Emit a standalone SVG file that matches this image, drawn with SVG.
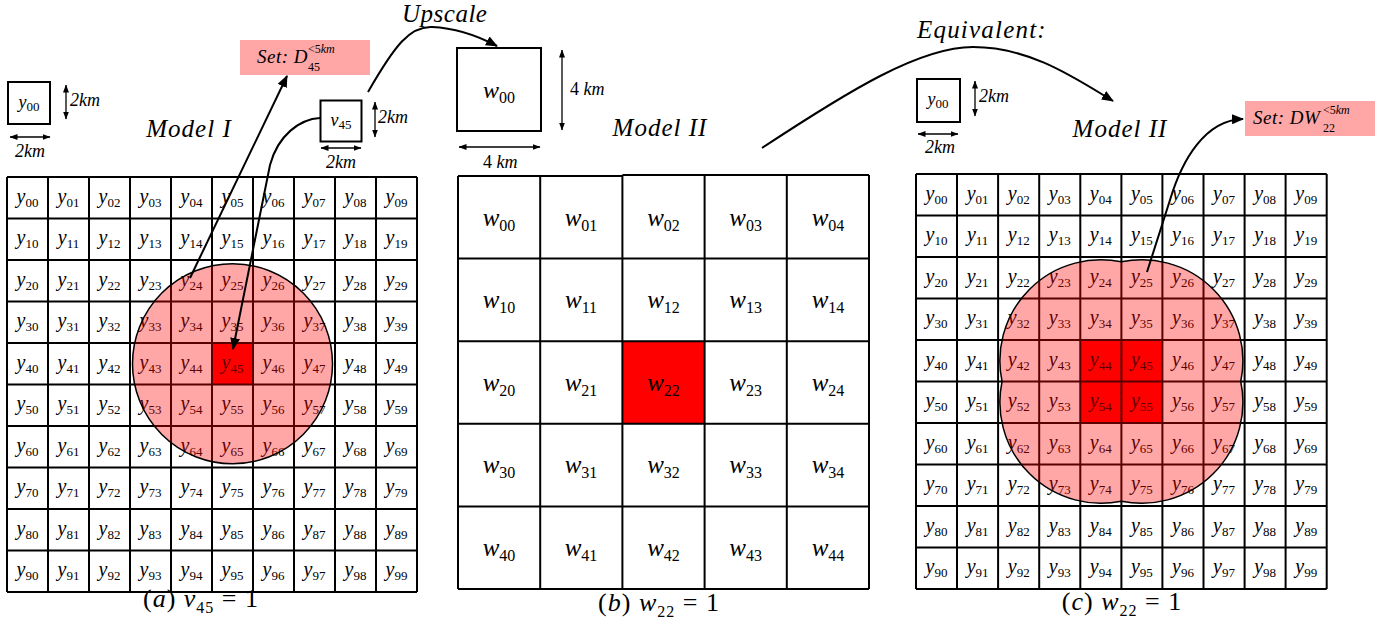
<svg xmlns="http://www.w3.org/2000/svg" width="1390" height="633" viewBox="0 0 1390 633">
<style>
.m{font-family:"Liberation Serif","Times New Roman",serif;font-style:italic;fill:#000}
.u{font-style:normal}
.c{text-anchor:middle}
.gy{font-size:20px}
.gw{font-size:25px}
.s{font-size:13px;font-style:normal}
.sw{font-size:16px;font-style:normal}
.grid{fill:none;stroke:#000;stroke-width:2}
.box{fill:#fff;stroke:#000;stroke-width:2}
.dim{stroke:#000;stroke-width:1.3;fill:none;marker-start:url(#da);marker-end:url(#da)}
.con{stroke:#000;stroke-width:2;fill:none;marker-end:url(#ah)}
.pink{fill:#ffa6a6}
.zone{fill:#ff0000;fill-opacity:0.35;stroke:#000;stroke-width:1.5}
.lbl{font-size:18px}
.mod{font-size:25px}
</style>
<defs>
<marker id="ah" viewBox="0 0 12 10" refX="11" refY="5" markerWidth="12" markerHeight="10" markerUnits="userSpaceOnUse" orient="auto"><path d="M0,0 L12,5 L0,10 z" fill="#000"/></marker>
<marker id="da" viewBox="0 0 8 6" refX="7.5" refY="3" markerWidth="8" markerHeight="6" markerUnits="userSpaceOnUse" orient="auto-start-reverse"><path d="M0,0 L8,3 L0,6 z" fill="#000"/></marker>
</defs>
<rect width="1390" height="633" fill="#fff"/>

<!-- Panel (a) -->
<g id="legend-a">
<rect class="box" x="8" y="82" width="42" height="42"/>
<text class="m c" font-size="18" x="29" y="108">y<tspan class="s" dy="3">00</tspan></text>
<line class="dim" x1="66" y1="85" x2="66" y2="119"/>
<text class="m lbl" x="70" y="106">2km</text>
<line class="dim" x1="10" y1="137" x2="50" y2="137"/>
<text class="m lbl" x="15" y="157">2km</text>
</g>
<g id="title-a"><text class="m mod" x="189" y="137" text-anchor="middle" letter-spacing="1">Model I</text></g>
<g id="set-a">
<rect class="pink" x="240" y="40" width="130" height="35"/>
<text class="m" font-size="19" x="257" y="63" letter-spacing="0.5">Set: D</text>
<text class="m u" font-size="12" x="308" y="71">45</text>
<text class="m" font-size="12" x="308" y="53"><tspan class="u">&lt;5</tspan>km</text>
</g>
<g id="v45">
<rect class="box" x="320.5" y="100.5" width="41" height="41"/>
<text class="m c" font-size="18" x="341" y="126">v<tspan class="s" dy="3">45</tspan></text>
<line class="dim" x1="375" y1="102" x2="375" y2="137"/>
<text class="m lbl" x="378" y="123">2km</text>
<line class="dim" x1="321" y1="148" x2="361" y2="148"/>
<text class="m lbl" x="326" y="168">2km</text>
</g>
<g id="grid-a">
<rect x="212" y="343" width="41" height="41.5" fill="#ff0000"/>
<path class="grid" d="M7,177V592M48,177V592M89,177V592M130,177V592M171,177V592M212,177V592M253,177V592M294,177V592M335,177V592M376,177V592M417,177V592M7,177H417M7,218.5H417M7,260H417M7,301.5H417M7,343H417M7,384.5H417M7,426H417M7,467.5H417M7,509H417M7,550.5H417M7,592H417"/>
<g class="m c gy">
<text x="27.5" y="203">y<tspan class="s" dy="4">00</tspan></text><text x="68.5" y="203">y<tspan class="s" dy="4">01</tspan></text><text x="109.5" y="203">y<tspan class="s" dy="4">02</tspan></text><text x="150.5" y="203">y<tspan class="s" dy="4">03</tspan></text><text x="191.5" y="203">y<tspan class="s" dy="4">04</tspan></text><text x="232.5" y="203">y<tspan class="s" dy="4">05</tspan></text><text x="273.5" y="203">y<tspan class="s" dy="4">06</tspan></text><text x="314.5" y="203">y<tspan class="s" dy="4">07</tspan></text><text x="355.5" y="203">y<tspan class="s" dy="4">08</tspan></text><text x="396.5" y="203">y<tspan class="s" dy="4">09</tspan></text>
<text x="27.5" y="244">y<tspan class="s" dy="4">10</tspan></text><text x="68.5" y="244">y<tspan class="s" dy="4">11</tspan></text><text x="109.5" y="244">y<tspan class="s" dy="4">12</tspan></text><text x="150.5" y="244">y<tspan class="s" dy="4">13</tspan></text><text x="191.5" y="244">y<tspan class="s" dy="4">14</tspan></text><text x="232.5" y="244">y<tspan class="s" dy="4">15</tspan></text><text x="273.5" y="244">y<tspan class="s" dy="4">16</tspan></text><text x="314.5" y="244">y<tspan class="s" dy="4">17</tspan></text><text x="355.5" y="244">y<tspan class="s" dy="4">18</tspan></text><text x="396.5" y="244">y<tspan class="s" dy="4">19</tspan></text>
<text x="27.5" y="286">y<tspan class="s" dy="4">20</tspan></text><text x="68.5" y="286">y<tspan class="s" dy="4">21</tspan></text><text x="109.5" y="286">y<tspan class="s" dy="4">22</tspan></text><text x="150.5" y="286">y<tspan class="s" dy="4">23</tspan></text><text x="191.5" y="286">y<tspan class="s" dy="4">24</tspan></text><text x="232.5" y="286">y<tspan class="s" dy="4">25</tspan></text><text x="273.5" y="286">y<tspan class="s" dy="4">26</tspan></text><text x="314.5" y="286">y<tspan class="s" dy="4">27</tspan></text><text x="355.5" y="286">y<tspan class="s" dy="4">28</tspan></text><text x="396.5" y="286">y<tspan class="s" dy="4">29</tspan></text>
<text x="27.5" y="327">y<tspan class="s" dy="4">30</tspan></text><text x="68.5" y="327">y<tspan class="s" dy="4">31</tspan></text><text x="109.5" y="327">y<tspan class="s" dy="4">32</tspan></text><text x="150.5" y="327">y<tspan class="s" dy="4">33</tspan></text><text x="191.5" y="327">y<tspan class="s" dy="4">34</tspan></text><text x="232.5" y="327">y<tspan class="s" dy="4">35</tspan></text><text x="273.5" y="327">y<tspan class="s" dy="4">36</tspan></text><text x="314.5" y="327">y<tspan class="s" dy="4">37</tspan></text><text x="355.5" y="327">y<tspan class="s" dy="4">38</tspan></text><text x="396.5" y="327">y<tspan class="s" dy="4">39</tspan></text>
<text x="27.5" y="369">y<tspan class="s" dy="4">40</tspan></text><text x="68.5" y="369">y<tspan class="s" dy="4">41</tspan></text><text x="109.5" y="369">y<tspan class="s" dy="4">42</tspan></text><text x="150.5" y="369">y<tspan class="s" dy="4">43</tspan></text><text x="191.5" y="369">y<tspan class="s" dy="4">44</tspan></text><text x="232.5" y="369">y<tspan class="s" dy="4">45</tspan></text><text x="273.5" y="369">y<tspan class="s" dy="4">46</tspan></text><text x="314.5" y="369">y<tspan class="s" dy="4">47</tspan></text><text x="355.5" y="369">y<tspan class="s" dy="4">48</tspan></text><text x="396.5" y="369">y<tspan class="s" dy="4">49</tspan></text>
<text x="27.5" y="410">y<tspan class="s" dy="4">50</tspan></text><text x="68.5" y="410">y<tspan class="s" dy="4">51</tspan></text><text x="109.5" y="410">y<tspan class="s" dy="4">52</tspan></text><text x="150.5" y="410">y<tspan class="s" dy="4">53</tspan></text><text x="191.5" y="410">y<tspan class="s" dy="4">54</tspan></text><text x="232.5" y="410">y<tspan class="s" dy="4">55</tspan></text><text x="273.5" y="410">y<tspan class="s" dy="4">56</tspan></text><text x="314.5" y="410">y<tspan class="s" dy="4">57</tspan></text><text x="355.5" y="410">y<tspan class="s" dy="4">58</tspan></text><text x="396.5" y="410">y<tspan class="s" dy="4">59</tspan></text>
<text x="27.5" y="452">y<tspan class="s" dy="4">60</tspan></text><text x="68.5" y="452">y<tspan class="s" dy="4">61</tspan></text><text x="109.5" y="452">y<tspan class="s" dy="4">62</tspan></text><text x="150.5" y="452">y<tspan class="s" dy="4">63</tspan></text><text x="191.5" y="452">y<tspan class="s" dy="4">64</tspan></text><text x="232.5" y="452">y<tspan class="s" dy="4">65</tspan></text><text x="273.5" y="452">y<tspan class="s" dy="4">66</tspan></text><text x="314.5" y="452">y<tspan class="s" dy="4">67</tspan></text><text x="355.5" y="452">y<tspan class="s" dy="4">68</tspan></text><text x="396.5" y="452">y<tspan class="s" dy="4">69</tspan></text>
<text x="27.5" y="493">y<tspan class="s" dy="4">70</tspan></text><text x="68.5" y="493">y<tspan class="s" dy="4">71</tspan></text><text x="109.5" y="493">y<tspan class="s" dy="4">72</tspan></text><text x="150.5" y="493">y<tspan class="s" dy="4">73</tspan></text><text x="191.5" y="493">y<tspan class="s" dy="4">74</tspan></text><text x="232.5" y="493">y<tspan class="s" dy="4">75</tspan></text><text x="273.5" y="493">y<tspan class="s" dy="4">76</tspan></text><text x="314.5" y="493">y<tspan class="s" dy="4">77</tspan></text><text x="355.5" y="493">y<tspan class="s" dy="4">78</tspan></text><text x="396.5" y="493">y<tspan class="s" dy="4">79</tspan></text>
<text x="27.5" y="535">y<tspan class="s" dy="4">80</tspan></text><text x="68.5" y="535">y<tspan class="s" dy="4">81</tspan></text><text x="109.5" y="535">y<tspan class="s" dy="4">82</tspan></text><text x="150.5" y="535">y<tspan class="s" dy="4">83</tspan></text><text x="191.5" y="535">y<tspan class="s" dy="4">84</tspan></text><text x="232.5" y="535">y<tspan class="s" dy="4">85</tspan></text><text x="273.5" y="535">y<tspan class="s" dy="4">86</tspan></text><text x="314.5" y="535">y<tspan class="s" dy="4">87</tspan></text><text x="355.5" y="535">y<tspan class="s" dy="4">88</tspan></text><text x="396.5" y="535">y<tspan class="s" dy="4">89</tspan></text>
<text x="27.5" y="576">y<tspan class="s" dy="4">90</tspan></text><text x="68.5" y="576">y<tspan class="s" dy="4">91</tspan></text><text x="109.5" y="576">y<tspan class="s" dy="4">92</tspan></text><text x="150.5" y="576">y<tspan class="s" dy="4">93</tspan></text><text x="191.5" y="576">y<tspan class="s" dy="4">94</tspan></text><text x="232.5" y="576">y<tspan class="s" dy="4">95</tspan></text><text x="273.5" y="576">y<tspan class="s" dy="4">96</tspan></text><text x="314.5" y="576">y<tspan class="s" dy="4">97</tspan></text><text x="355.5" y="576">y<tspan class="s" dy="4">98</tspan></text><text x="396.5" y="576">y<tspan class="s" dy="4">99</tspan></text>
</g>
<circle class="zone" cx="232.5" cy="363.75" r="100"/>
</g>
<g id="caption-a"><text class="m" font-size="26" x="201" y="607" text-anchor="middle" letter-spacing="1"><tspan class="u">(</tspan>a<tspan class="u">) </tspan>v<tspan class="sw" font-size="18" dy="6">45</tspan><tspan class="u" dy="-6"> = 1</tspan></text></g>

<!-- Panel (b) -->
<g id="upscale-label"><text class="m" font-size="25" x="402" y="22" letter-spacing="0.5">Upscale</text></g>
<g id="w00">
<rect class="box" x="457" y="48" width="84" height="83"/>
<text class="m c" font-size="24" x="499" y="98">w<tspan class="sw" dy="5">00</tspan></text>
<line class="dim" x1="562" y1="50" x2="562" y2="130"/>
<text class="m lbl" x="570" y="95"><tspan class="u">4 </tspan>km</text>
<line class="dim" x1="459" y1="147" x2="540" y2="147"/>
<text class="m lbl" x="483" y="168"><tspan class="u">4 </tspan>km</text>
</g>
<g id="title-b"><text class="m mod" x="660" y="136" text-anchor="middle" letter-spacing="1">Model II</text></g>
<g id="grid-b">
<rect x="622.4" y="341.2" width="82.2" height="82.6" fill="#ff0000"/>
<path class="grid" d="M458,176V589M540.2,176V589M622.4,175V589M704.6,175V589M786.8,175V589M869,175V589M458,176H622.4M622.4,175H869M458,258.6H869M458,341.2H869M458,423.8H869M458,506.4H869M458,589H869"/>
<g class="m c gw">
<text x="499" y="226">w<tspan class="sw" dy="5">00</tspan></text><text x="581" y="226">w<tspan class="sw" dy="5">01</tspan></text><text x="663.5" y="226">w<tspan class="sw" dy="5">02</tspan></text><text x="745.7" y="226">w<tspan class="sw" dy="5">03</tspan></text><text x="828" y="226">w<tspan class="sw" dy="5">04</tspan></text>
<text x="499" y="308">w<tspan class="sw" dy="5">10</tspan></text><text x="581" y="308">w<tspan class="sw" dy="5">11</tspan></text><text x="663.5" y="308">w<tspan class="sw" dy="5">12</tspan></text><text x="745.7" y="308">w<tspan class="sw" dy="5">13</tspan></text><text x="828" y="308">w<tspan class="sw" dy="5">14</tspan></text>
<text x="499" y="391">w<tspan class="sw" dy="5">20</tspan></text><text x="581" y="391">w<tspan class="sw" dy="5">21</tspan></text><text x="663.5" y="391">w<tspan class="sw" dy="5">22</tspan></text><text x="745.7" y="391">w<tspan class="sw" dy="5">23</tspan></text><text x="828" y="391">w<tspan class="sw" dy="5">24</tspan></text>
<text x="499" y="473">w<tspan class="sw" dy="5">30</tspan></text><text x="581" y="473">w<tspan class="sw" dy="5">31</tspan></text><text x="663.5" y="473">w<tspan class="sw" dy="5">32</tspan></text><text x="745.7" y="473">w<tspan class="sw" dy="5">33</tspan></text><text x="828" y="473">w<tspan class="sw" dy="5">34</tspan></text>
<text x="499" y="556">w<tspan class="sw" dy="5">40</tspan></text><text x="581" y="556">w<tspan class="sw" dy="5">41</tspan></text><text x="663.5" y="556">w<tspan class="sw" dy="5">42</tspan></text><text x="745.7" y="556">w<tspan class="sw" dy="5">43</tspan></text><text x="828" y="556">w<tspan class="sw" dy="5">44</tspan></text>
</g>
</g>
<g id="caption-b"><text class="m" font-size="26" x="659" y="611" text-anchor="middle" letter-spacing="1"><tspan class="u">(</tspan>b<tspan class="u">) </tspan>w<tspan class="sw" font-size="18" dy="6">22</tspan><tspan class="u" dy="-6"> = 1</tspan></text></g>

<!-- Panel (c) -->
<g id="equivalent-label"><text class="m" font-size="25" x="917" y="38" letter-spacing="1.2">Equivalent:</text></g>
<g id="legend-c">
<rect class="box" x="917" y="79" width="43" height="43"/>
<text class="m c" font-size="18" x="938" y="105">y<tspan class="s" dy="3">00</tspan></text>
<line class="dim" x1="975" y1="81" x2="975" y2="116"/>
<text class="m lbl" x="979" y="102">2km</text>
<line class="dim" x1="918" y1="134" x2="958" y2="134"/>
<text class="m lbl" x="925" y="153">2km</text>
</g>
<g id="title-c"><text class="m mod" x="1120" y="137" text-anchor="middle" letter-spacing="1">Model II</text></g>
<g id="set-c">
<rect class="pink" x="1245" y="101" width="130" height="35"/>
<text class="m" font-size="19" x="1253" y="124" letter-spacing="0.5">Set: DW</text>
<text class="m u" font-size="12" x="1323" y="132">22</text>
<text class="m" font-size="12" x="1323" y="114"><tspan class="u">&lt;5</tspan>km</text>
</g>
<g id="grid-c">
<rect x="1080.3" y="340" width="82.1" height="83" fill="#ff0000"/>
<path class="grid" d="M916,174V589M957,174V589M998.1,174V589M1039.2,174V589M1080.3,174V589M1121.4,174V589M1162.4,174V589M1203.5,174V589M1244.6,174V589M1285.6,174V589M1326.7,174V589M916,174H1326.7M916,215.5H1326.7M916,257H1326.7M916,298.5H1326.7M916,340H1326.7M916,381.5H1326.7M916,423H1326.7M916,464.5H1326.7M916,506H1326.7M916,547.5H1326.7M916,589H1326.7"/>
<g class="m c gy">
<text x="936.5" y="200">y<tspan class="s" dy="4">00</tspan></text><text x="977.6" y="200">y<tspan class="s" dy="4">01</tspan></text><text x="1018.7" y="200">y<tspan class="s" dy="4">02</tspan></text><text x="1059.7" y="200">y<tspan class="s" dy="4">03</tspan></text><text x="1100.8" y="200">y<tspan class="s" dy="4">04</tspan></text><text x="1141.9" y="200">y<tspan class="s" dy="4">05</tspan></text><text x="1183" y="200">y<tspan class="s" dy="4">06</tspan></text><text x="1224" y="200">y<tspan class="s" dy="4">07</tspan></text><text x="1265.1" y="200">y<tspan class="s" dy="4">08</tspan></text><text x="1306.2" y="200">y<tspan class="s" dy="4">09</tspan></text>
<text x="936.5" y="241">y<tspan class="s" dy="4">10</tspan></text><text x="977.6" y="241">y<tspan class="s" dy="4">11</tspan></text><text x="1018.7" y="241">y<tspan class="s" dy="4">12</tspan></text><text x="1059.7" y="241">y<tspan class="s" dy="4">13</tspan></text><text x="1100.8" y="241">y<tspan class="s" dy="4">14</tspan></text><text x="1141.9" y="241">y<tspan class="s" dy="4">15</tspan></text><text x="1183" y="241">y<tspan class="s" dy="4">16</tspan></text><text x="1224" y="241">y<tspan class="s" dy="4">17</tspan></text><text x="1265.1" y="241">y<tspan class="s" dy="4">18</tspan></text><text x="1306.2" y="241">y<tspan class="s" dy="4">19</tspan></text>
<text x="936.5" y="283">y<tspan class="s" dy="4">20</tspan></text><text x="977.6" y="283">y<tspan class="s" dy="4">21</tspan></text><text x="1018.7" y="283">y<tspan class="s" dy="4">22</tspan></text><text x="1059.7" y="283">y<tspan class="s" dy="4">23</tspan></text><text x="1100.8" y="283">y<tspan class="s" dy="4">24</tspan></text><text x="1141.9" y="283">y<tspan class="s" dy="4">25</tspan></text><text x="1183" y="283">y<tspan class="s" dy="4">26</tspan></text><text x="1224" y="283">y<tspan class="s" dy="4">27</tspan></text><text x="1265.1" y="283">y<tspan class="s" dy="4">28</tspan></text><text x="1306.2" y="283">y<tspan class="s" dy="4">29</tspan></text>
<text x="936.5" y="324">y<tspan class="s" dy="4">30</tspan></text><text x="977.6" y="324">y<tspan class="s" dy="4">31</tspan></text><text x="1018.7" y="324">y<tspan class="s" dy="4">32</tspan></text><text x="1059.7" y="324">y<tspan class="s" dy="4">33</tspan></text><text x="1100.8" y="324">y<tspan class="s" dy="4">34</tspan></text><text x="1141.9" y="324">y<tspan class="s" dy="4">35</tspan></text><text x="1183" y="324">y<tspan class="s" dy="4">36</tspan></text><text x="1224" y="324">y<tspan class="s" dy="4">37</tspan></text><text x="1265.1" y="324">y<tspan class="s" dy="4">38</tspan></text><text x="1306.2" y="324">y<tspan class="s" dy="4">39</tspan></text>
<text x="936.5" y="366">y<tspan class="s" dy="4">40</tspan></text><text x="977.6" y="366">y<tspan class="s" dy="4">41</tspan></text><text x="1018.7" y="366">y<tspan class="s" dy="4">42</tspan></text><text x="1059.7" y="366">y<tspan class="s" dy="4">43</tspan></text><text x="1100.8" y="366">y<tspan class="s" dy="4">44</tspan></text><text x="1141.9" y="366">y<tspan class="s" dy="4">45</tspan></text><text x="1183" y="366">y<tspan class="s" dy="4">46</tspan></text><text x="1224" y="366">y<tspan class="s" dy="4">47</tspan></text><text x="1265.1" y="366">y<tspan class="s" dy="4">48</tspan></text><text x="1306.2" y="366">y<tspan class="s" dy="4">49</tspan></text>
<text x="936.5" y="407">y<tspan class="s" dy="4">50</tspan></text><text x="977.6" y="407">y<tspan class="s" dy="4">51</tspan></text><text x="1018.7" y="407">y<tspan class="s" dy="4">52</tspan></text><text x="1059.7" y="407">y<tspan class="s" dy="4">53</tspan></text><text x="1100.8" y="407">y<tspan class="s" dy="4">54</tspan></text><text x="1141.9" y="407">y<tspan class="s" dy="4">55</tspan></text><text x="1183" y="407">y<tspan class="s" dy="4">56</tspan></text><text x="1224" y="407">y<tspan class="s" dy="4">57</tspan></text><text x="1265.1" y="407">y<tspan class="s" dy="4">58</tspan></text><text x="1306.2" y="407">y<tspan class="s" dy="4">59</tspan></text>
<text x="936.5" y="449">y<tspan class="s" dy="4">60</tspan></text><text x="977.6" y="449">y<tspan class="s" dy="4">61</tspan></text><text x="1018.7" y="449">y<tspan class="s" dy="4">62</tspan></text><text x="1059.7" y="449">y<tspan class="s" dy="4">63</tspan></text><text x="1100.8" y="449">y<tspan class="s" dy="4">64</tspan></text><text x="1141.9" y="449">y<tspan class="s" dy="4">65</tspan></text><text x="1183" y="449">y<tspan class="s" dy="4">66</tspan></text><text x="1224" y="449">y<tspan class="s" dy="4">67</tspan></text><text x="1265.1" y="449">y<tspan class="s" dy="4">68</tspan></text><text x="1306.2" y="449">y<tspan class="s" dy="4">69</tspan></text>
<text x="936.5" y="490">y<tspan class="s" dy="4">70</tspan></text><text x="977.6" y="490">y<tspan class="s" dy="4">71</tspan></text><text x="1018.7" y="490">y<tspan class="s" dy="4">72</tspan></text><text x="1059.7" y="490">y<tspan class="s" dy="4">73</tspan></text><text x="1100.8" y="490">y<tspan class="s" dy="4">74</tspan></text><text x="1141.9" y="490">y<tspan class="s" dy="4">75</tspan></text><text x="1183" y="490">y<tspan class="s" dy="4">76</tspan></text><text x="1224" y="490">y<tspan class="s" dy="4">77</tspan></text><text x="1265.1" y="490">y<tspan class="s" dy="4">78</tspan></text><text x="1306.2" y="490">y<tspan class="s" dy="4">79</tspan></text>
<text x="936.5" y="532">y<tspan class="s" dy="4">80</tspan></text><text x="977.6" y="532">y<tspan class="s" dy="4">81</tspan></text><text x="1018.7" y="532">y<tspan class="s" dy="4">82</tspan></text><text x="1059.7" y="532">y<tspan class="s" dy="4">83</tspan></text><text x="1100.8" y="532">y<tspan class="s" dy="4">84</tspan></text><text x="1141.9" y="532">y<tspan class="s" dy="4">85</tspan></text><text x="1183" y="532">y<tspan class="s" dy="4">86</tspan></text><text x="1224" y="532">y<tspan class="s" dy="4">87</tspan></text><text x="1265.1" y="532">y<tspan class="s" dy="4">88</tspan></text><text x="1306.2" y="532">y<tspan class="s" dy="4">89</tspan></text>
<text x="936.5" y="573">y<tspan class="s" dy="4">90</tspan></text><text x="977.6" y="573">y<tspan class="s" dy="4">91</tspan></text><text x="1018.7" y="573">y<tspan class="s" dy="4">92</tspan></text><text x="1059.7" y="573">y<tspan class="s" dy="4">93</tspan></text><text x="1100.8" y="573">y<tspan class="s" dy="4">94</tspan></text><text x="1141.9" y="573">y<tspan class="s" dy="4">95</tspan></text><text x="1183" y="573">y<tspan class="s" dy="4">96</tspan></text><text x="1224" y="573">y<tspan class="s" dy="4">97</tspan></text><text x="1265.1" y="573">y<tspan class="s" dy="4">98</tspan></text><text x="1306.2" y="573">y<tspan class="s" dy="4">99</tspan></text>
</g>
<path class="zone" d="M1121.4,261.85 A101,101 0 0 1 1240.75,381.5 A101,101 0 0 1 1121.4,501.15 A101,101 0 0 1 1002.05,381.5 A101,101 0 0 1 1121.4,261.85 Z"/>
</g>
<g id="caption-c"><text class="m" font-size="26" x="1122" y="610" text-anchor="middle" letter-spacing="1"><tspan class="u">(</tspan>c<tspan class="u">) </tspan>w<tspan class="sw" font-size="18" dy="6">22</tspan><tspan class="u" dy="-6"> = 1</tspan></text></g>

<!-- Connectors -->
<g id="connectors">
<path class="con" d="M190,278 L287,76"/>
<path class="con" d="M320,118 C300,119 278,135 270,165 L233,349"/>
<path class="con" d="M368,92 C395,45 410,26 432,27 C458,28 478,36 497,46"/>
<path class="con" d="M762,148 C850,90 920,47 973,47 C1030,47 1075,78 1113,101"/>
<path class="con" d="M1147,272 L1170,200 C1182,160 1205,120 1243,119"/>
</g>
</svg>
